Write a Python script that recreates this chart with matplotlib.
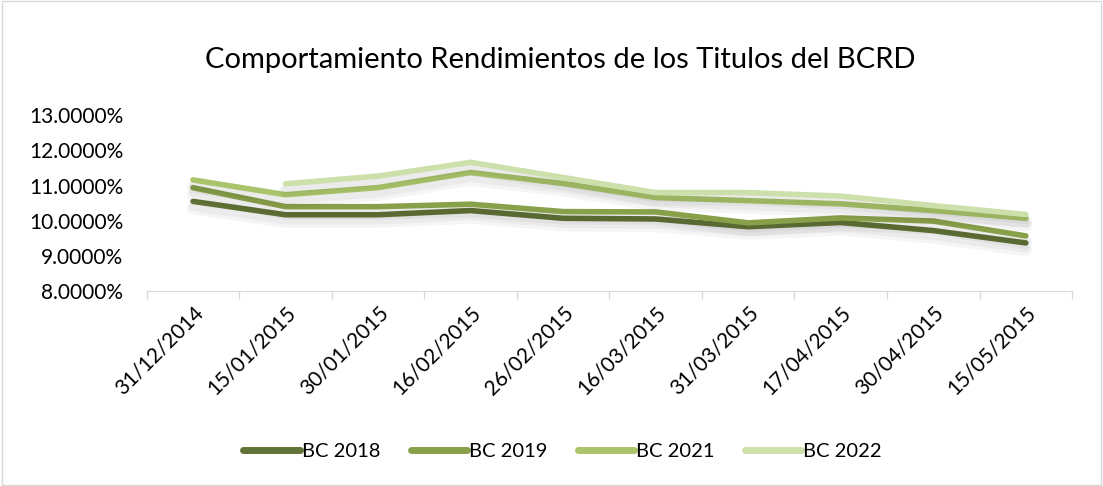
import matplotlib
matplotlib.use('Agg')
import matplotlib.pyplot as plt
import matplotlib.patheffects as pe
import numpy as np

plt.rcParams['font.family'] = ['Lato', 'DejaVu Sans']

fechas = ['31/12/2014', '15/01/2015', '30/01/2015', '16/02/2015', '26/02/2015',
          '16/03/2015', '31/03/2015', '17/04/2015', '30/04/2015', '15/05/2015']
bc2018 = [10.55, 10.17, 10.17, 10.29, 10.07, 10.05, 9.83, 9.95, 9.72, 9.37]
bc2019 = [10.94, 10.40, 10.40, 10.47, 10.26, 10.25, 9.94, 10.08, 9.99, 9.57]
bc2021 = [11.16, 10.74, 10.94, 11.37, 11.06, 10.66, 10.57, 10.48, 10.29, 10.07]
bc2022 = [np.nan, 11.05, 11.27, 11.66, 11.23, 10.80, 10.80, 10.70, 10.43, 10.18]

series = [('BC 2018', bc2018, '#617336'),
          ('BC 2019', bc2019, '#89a04a'),
          ('BC 2021', bc2021, '#a9c46a'),
          ('BC 2022', bc2022, '#cde0ac')]

fig = plt.figure(figsize=(11.03, 4.86), dpi=100)
fig.patches.append(plt.Rectangle((0.002, 0.002), 0.996, 0.996, transform=fig.transFigure,
                                 fill=False, edgecolor='#d9d9d9', lw=1))
ax = fig.add_axes([0.133, 0.401, 0.839, 0.362])

x = np.arange(len(fechas))
shadow = [pe.SimpleLineShadow(offset=(0, -5), shadow_color='#000000', alpha=0.04, linewidth=9),
          pe.SimpleLineShadow(offset=(0, -4), shadow_color='#000000', alpha=0.04, linewidth=6),
          pe.Normal()]
for name, vals, col in series:
    ax.plot(x, vals, color=col, lw=4, label=name, solid_capstyle='round',
            solid_joinstyle='round', path_effects=shadow)

ax.set_xlim(-0.5, len(fechas) - 0.5)
ax.set_ylim(8, 13)
ax.set_yticks(np.arange(8, 13.5, 1))
ax.set_yticklabels(['%.4f%%' % v for v in np.arange(8, 13.5, 1)], fontsize=15)
ax.set_xticks(x)
ax.set_xticklabels(fechas, rotation=45, ha='right', rotation_mode='anchor', fontsize=15)
ax.set_xticks(np.arange(-0.5, len(fechas)), minor=True)
ax.tick_params(axis='x', which='major', length=0, pad=8)
ax.tick_params(axis='x', which='minor', length=6, color='#d9d9d9', width=1)
ax.tick_params(axis='y', length=0, pad=17)
for s in ['top', 'right', 'left']:
    ax.spines[s].set_visible(False)
ax.spines['bottom'].set_color('#d9d9d9')

fig.text(0.508, 0.876, 'Comportamiento Rendimientos de los Titulos del BCRD',
         ha='center', va='center', fontsize=21)

leg = fig.legend(loc='center', bbox_to_anchor=(0.510, 0.072), ncol=4, frameon=False,
                 fontsize=14.5, handlelength=2.8, handletextpad=0.1, columnspacing=1.5)
for h in leg.get_lines():
    h.set_linewidth(5)
    h.set_path_effects([])

fig.savefig('out.png', dpi=100)
